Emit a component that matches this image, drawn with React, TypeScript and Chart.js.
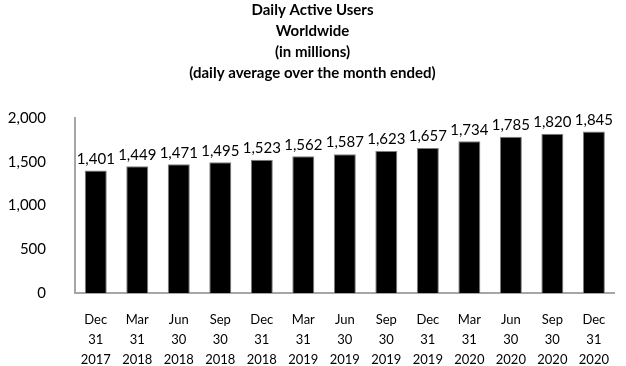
import React, { useEffect, useRef } from "react";
import { Chart, registerables } from "chart.js";

Chart.register(...registerables);

const categories: string[][] = [
  ["Dec", "31", "2017"],
  ["Mar", "31", "2018"],
  ["Jun", "30", "2018"],
  ["Sep", "30", "2018"],
  ["Dec", "31", "2018"],
  ["Mar", "31", "2019"],
  ["Jun", "30", "2019"],
  ["Sep", "30", "2019"],
  ["Dec", "31", "2019"],
  ["Mar", "31", "2020"],
  ["Jun", "30", "2020"],
  ["Sep", "30", "2020"],
  ["Dec", "31", "2020"],
];
const dau: number[] = [1401, 1449, 1471, 1495, 1523, 1562, 1587, 1623, 1657, 1734, 1785, 1820, 1845];
const titleLines: string[] = [
  "Daily Active Users",
  "Worldwide",
  "(in millions)",
  "(daily average over the month ended)",
];

const FONT = "Lato, 'Open Sans', sans-serif";

const valueLabels = {
  id: "valueLabels",
  afterDatasetsDraw(chart: any) {
    const ctx = chart.ctx;
    const meta = chart.getDatasetMeta(0);
    ctx.save();
    ctx.font = `15px ${FONT}`;
    ctx.fillStyle = "#000";
    ctx.textAlign = "center";
    ctx.textBaseline = "bottom";
    meta.data.forEach((el: any, i: number) => {
      const v = chart.data.datasets[0].data[i] as number;
      ctx.fillText(v.toLocaleString("en-US"), el.x, el.y - 4);
    });
    ctx.restore();
  },
};

export default function App() {
  const ref = useRef<HTMLCanvasElement>(null);
  useEffect(() => {
    if (!ref.current) return;
    const chart = new Chart(ref.current, {
      type: "bar",
      data: {
        labels: categories,
        datasets: [
          {
            data: dau,
            backgroundColor: "#000000",
            borderColor: "#7f7f7f",
            borderWidth: 1,
            barPercentage: 0.53,
            categoryPercentage: 1,
          },
        ],
      },
      options: {
        animation: false,
        responsive: false,
        maintainAspectRatio: false,
        layout: { padding: { left: 0, right: 1, top: 0, bottom: 0 } },
        plugins: {
          legend: { display: false },
          tooltip: { enabled: false },
          title: {
            display: true,
            text: titleLines,
            color: "#000",
            font: { family: FONT, size: 15, weight: "bold", lineHeight: 1.4 },
            padding: { top: 0, bottom: 34 },
          },
        },
        scales: {
          x: {
            grid: { display: false, drawTicks: false },
            border: { display: true, color: "#a6a6a6", width: 2 },
            ticks: {
              color: "#000",
              font: { family: FONT, size: 13, lineHeight: 1.54 },
              padding: 17,
              maxRotation: 0,
              autoSkip: false,
            },
            afterFit: (s: any) => {
              s.height = 73;
            },
          },
          y: {
            min: 0,
            max: 2000,
            grid: { display: false, drawTicks: false },
            border: { display: true, color: "#a6a6a6", width: 2 },
            ticks: {
              stepSize: 500,
              color: "#000",
              font: { family: FONT, size: 15 },
              padding: 29,
              callback: (v: any) => Number(v).toLocaleString("en-US"),
            },
            afterFit: (s: any) => {
              s.width = 75;
            },
          },
        },
      },
      plugins: [valueLabels],
    });
    return () => chart.destroy();
  }, []);
  return (
    <div style={{ position: "fixed", left: 0, top: 0, width: 626, height: 366, background: "#fff" }}>
      <canvas ref={ref} width={626} height={366} style={{ width: 626, height: 366 }} />
    </div>
  );
}
